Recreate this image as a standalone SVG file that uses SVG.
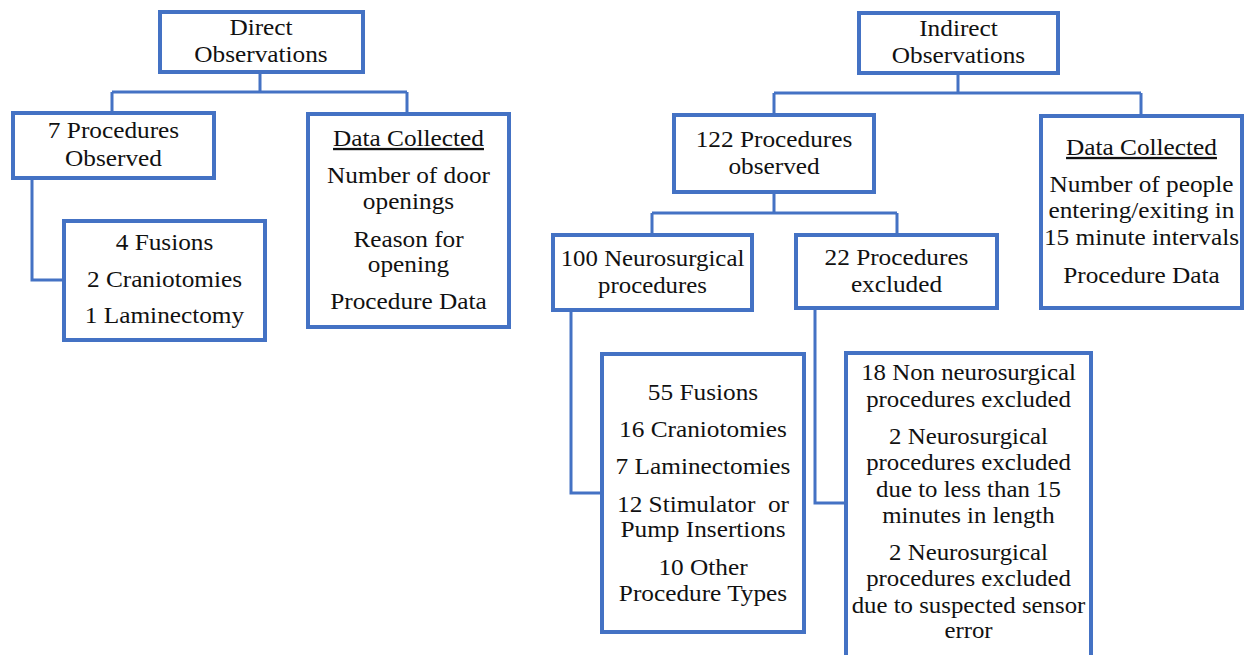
<svg xmlns="http://www.w3.org/2000/svg" width="1248" height="655" viewBox="0 0 1248 655">
<style>
.box{fill:#ffffff;stroke:#4472C4;stroke-width:4}
.con{fill:none;stroke:#4472C4;stroke-width:3}
.t text{font-family:'Liberation Serif','Times New Roman',serif;font-size:23px;fill:#111;text-anchor:middle}
.u{text-decoration:underline}
</style>
<rect width="1248" height="655" fill="#ffffff"/>
<g id="connectors">
<path class="con" d="M260 72V92M112 92H407M112 92V113M407 92V113"/>
<path class="con" d="M32 178V280H64"/>
<path class="con" d="M958 73V93M774 93H1141M774 93V115M1141 93V116"/>
<path class="con" d="M774 192V213M652 213H897M652 213V235M897 213V235"/>
<path class="con" d="M571 310V493H602"/>
<path class="con" d="M815 308V503H846"/>
</g>
<g class="t">
<g id="direct">
<rect class="box" x="160" y="12" width="203" height="60"/>
<g transform="translate(261 0) scale(1.1 1)"><text x="0" y="35">Direct</text><text x="0" y="62">Observations</text></g>
</g>
<g id="proc7">
<rect class="box" x="13" y="113" width="201" height="65"/>
<g transform="translate(113.5 0) scale(1.1 1)"><text x="0" y="138">7 Procedures</text><text x="0" y="166">Observed</text></g>
</g>
<g id="fus4">
<rect class="box" x="64" y="221" width="201" height="119"/>
<g transform="translate(164.5 0) scale(1.1 1)"><text x="0" y="250">4 Fusions</text><text x="0" y="287">2 Craniotomies</text><text x="0" y="323">1 Laminectomy</text></g>
</g>
<g id="data1">
<rect class="box" x="308" y="114" width="201" height="213"/>
<g transform="translate(408.5 0) scale(1.1 1)"><text class="u" x="0" y="146">Data Collected</text><text x="0" y="183">Number of door</text><text x="0" y="209">openings</text><text x="0" y="247">Reason for</text><text x="0" y="272">opening</text><text x="0" y="309">Procedure Data</text></g>
</g>
<g id="indirect">
<rect class="box" x="859" y="13" width="199" height="60"/>
<g transform="translate(958.5 0) scale(1.1 1)"><text x="0" y="36">Indirect</text><text x="0" y="63">Observations</text></g>
</g>
<g id="proc122">
<rect class="box" x="674" y="115" width="200" height="77"/>
<g transform="translate(774 0) scale(1.1 1)"><text x="0" y="147">122 Procedures</text><text x="0" y="174">observed</text></g>
</g>
<g id="neuro100">
<rect class="box" x="553" y="235" width="199" height="75"/>
<g transform="translate(652.5 0) scale(1.08 1)"><text x="0" y="266">100 Neurosurgical</text><text x="0" y="293">procedures</text></g>
</g>
<g id="excl22">
<rect class="box" x="796" y="235" width="201" height="73"/>
<g transform="translate(896.5 0) scale(1.1 1)"><text x="0" y="265">22 Procedures</text><text x="0" y="292">excluded</text></g>
</g>
<g id="data2">
<rect class="box" x="1041" y="116" width="201" height="192"/>
<g transform="translate(1141.5 0) scale(1.1 1)"><text class="u" x="0" y="155">Data Collected</text><text x="0" y="192">Number of people</text><text x="0" y="218">entering/exiting in</text><text x="0" y="245">15 minute intervals</text><text x="0" y="283">Procedure Data</text></g>
</g>
<g id="types">
<rect class="box" x="602" y="354" width="202" height="278"/>
<g transform="translate(703 0) scale(1.1 1)"><text x="0" y="400">55 Fusions</text><text x="0" y="437">16 Craniotomies</text><text x="0" y="474">7 Laminectomies</text><text x="0" y="512">12 Stimulator&#160; or</text><text x="0" y="537">Pump Insertions</text><text x="0" y="575">10 Other</text><text x="0" y="601">Procedure Types</text></g>
</g>
<g id="excl18">
<rect class="box" x="846" y="353" width="245" height="304"/>
<g transform="translate(968.5 0) scale(1.08 1)"><text x="0" y="380">18 Non neurosurgical</text><text x="0" y="407">procedures excluded</text><text x="0" y="444">2 Neurosurgical</text><text x="0" y="470">procedures excluded</text><text x="0" y="497">due to less than 15</text><text x="0" y="523">minutes in length</text><text x="0" y="560">2 Neurosurgical</text><text x="0" y="586">procedures excluded</text><text x="0" y="613">due to suspected sensor</text><text x="0" y="638">error</text></g>
</g>
</g>
</svg>
